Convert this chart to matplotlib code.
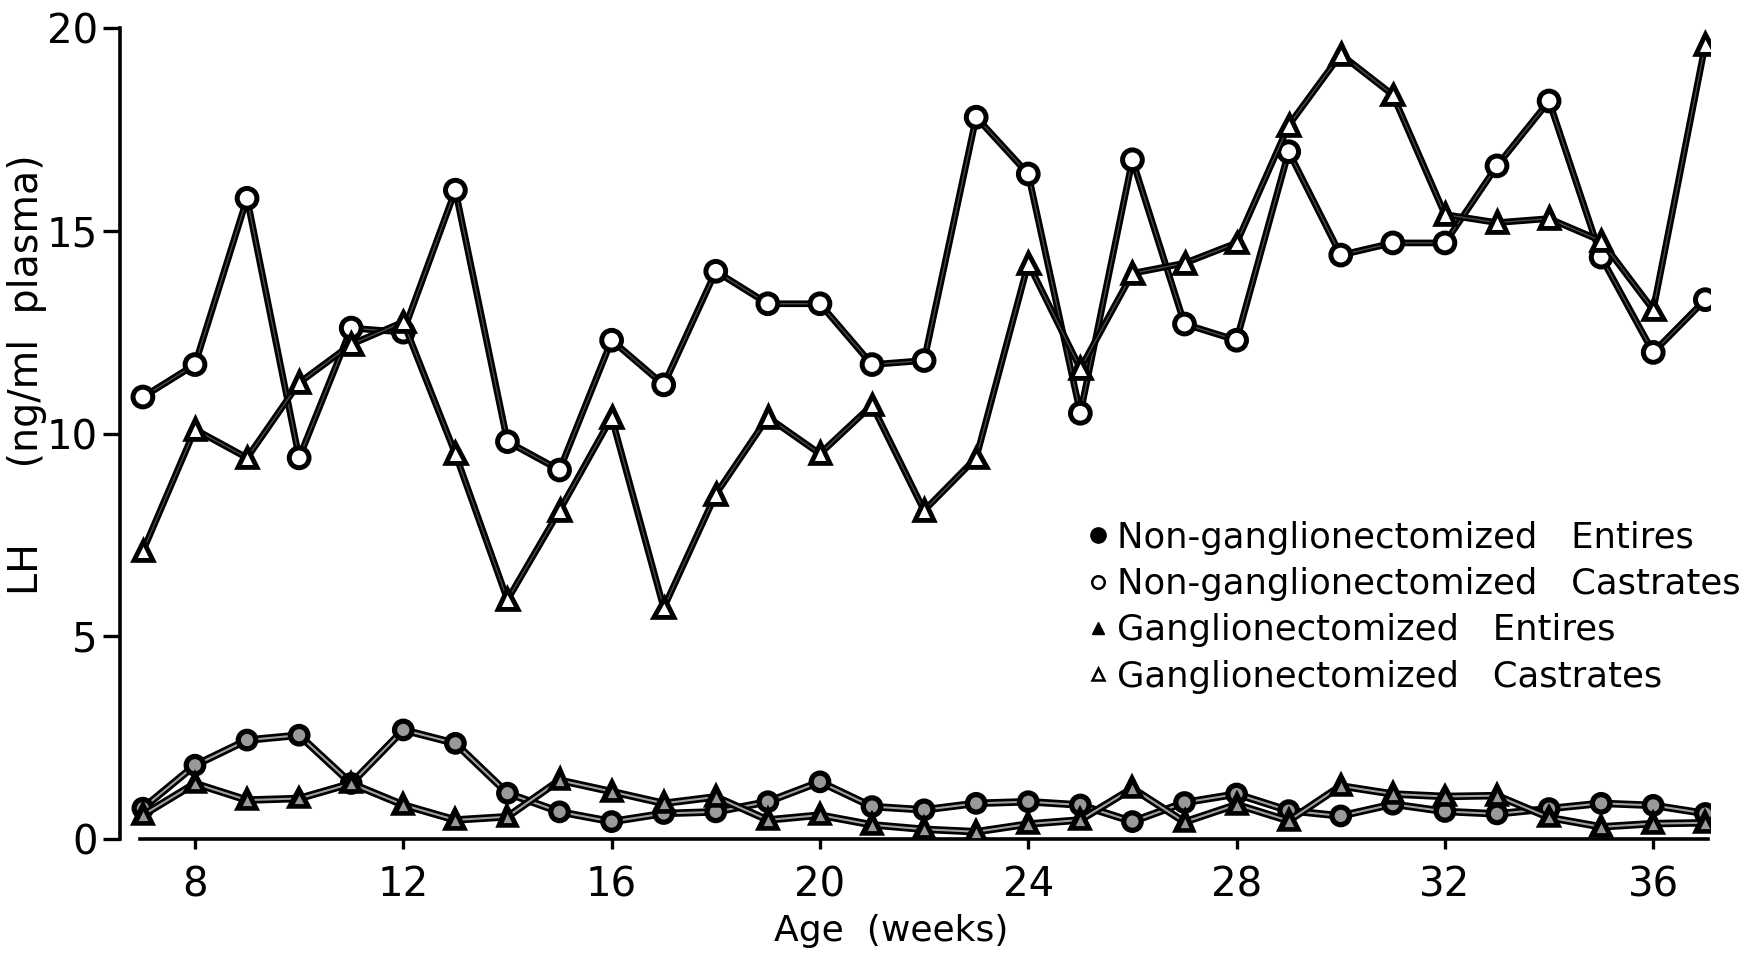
import matplotlib
matplotlib.use("Agg")
import matplotlib.pyplot as plt
import matplotlib.patheffects as pe
from matplotlib.lines import Line2D

# age in weeks
weeks = list(range(7, 38))

# LH (ng/ml plasma)
nong_castrates = [10.9, 11.7, 15.8, 9.4, 12.6, 12.5, 16.0, 9.8, 9.1, 12.3,
                  11.2, 14.0, 13.2, 13.2, 11.7, 11.8, 17.8, 16.4, 10.5, 16.75,
                  12.7, 12.3, 16.95, 14.4, 14.7, 14.7, 16.6, 18.2, 14.35, 12.0, 13.3]
gang_castrates = [7.1, 10.1, 9.4, 11.25, 12.2, 12.75, 9.5, 5.9, 8.1, 10.4,
                  5.7, 8.5, 10.4, 9.5, 10.7, 8.1, 9.4, 14.2, 11.6, 13.95,
                  14.2, 14.7, 17.6, 19.35, 18.35, 15.4, 15.2, 15.3, 14.75, 13.05, 19.6]
nong_entires = [0.76, 1.82, 2.44, 2.56, 1.37, 2.69, 2.36, 1.13, 0.67, 0.43,
                0.63, 0.67, 0.92, 1.41, 0.80, 0.72, 0.88, 0.92, 0.84, 0.43,
                0.90, 1.11, 0.70, 0.57, 0.86, 0.68, 0.62, 0.75, 0.88, 0.83, 0.63]
gang_entires = [0.59, 1.37, 0.96, 1.00, 1.37, 0.84, 0.47, 0.55, 1.45, 1.17,
                0.88, 1.04, 0.47, 0.59, 0.35, 0.24, 0.18, 0.37, 0.47, 1.25,
                0.42, 0.85, 0.45, 1.31, 1.11, 1.05, 1.07, 0.53, 0.30, 0.38, 0.40]

labels = ["Non-ganglionectomized   Entires",
          "Non-ganglionectomized   Castrates",
          "Ganglionectomized   Entires",
          "Ganglionectomized   Castrates"]

x_ticks = [8, 12, 16, 20, 24, 28, 32, 36]
y_ticks = [0, 5, 10, 15, 20]

plt.rcParams["font.family"] = ["DejaVu Sans"]

fig = plt.figure(figsize=(17.49, 9.59), dpi=100)
ax = fig.add_axes([0.0686, 0.1251, 0.9094, 0.8457])

upper_fx = [pe.Stroke(linewidth=4.8, foreground="black"), pe.Normal()]
lower_fx = [pe.Stroke(linewidth=5.4, foreground="black"), pe.Normal()]

ax.plot(weeks, nong_castrates, color="#4a4a4a", lw=1.0, marker="o", ms=13,
        mfc="white", mec="black", mew=2.4, path_effects=upper_fx, zorder=3)
ax.plot(weeks, gang_castrates, color="#4a4a4a", lw=1.0, marker="^", ms=12,
        mfc="white", mec="black", mew=2.2, path_effects=upper_fx, zorder=3)
ax.plot(weeks, nong_entires, color="#a0a0a0", lw=1.5, marker="o", ms=11,
        mfc="#999999", mec="black", mew=2.2, path_effects=lower_fx, zorder=3)
ax.plot(weeks, gang_entires, color="#a0a0a0", lw=1.5, marker="^", ms=10,
        mfc="#999999", mec="black", mew=2.0, path_effects=lower_fx, zorder=3)

ax.set_xlim(6.56, 37.1)
ax.set_ylim(0, 20)
for s in ["top", "right"]:
    ax.spines[s].set_visible(False)
ax.spines["left"].set_linewidth(2.6)
ax.spines["bottom"].set_linewidth(2.6)
ax.spines["bottom"].set_bounds(6.95, 37.05)
ax.spines["left"].set_bounds(0, 20)

ax.set_xticks(x_ticks)
ax.set_yticks(y_ticks)
ax.tick_params(axis="y", direction="out", length=12, width=2.4, pad=4, labelsize=29)
ax.tick_params(axis="x", direction="out", length=7, width=2.4, pad=12, labelsize=29)

ax.set_xlabel("Age  (weeks)", fontsize=26)
ax.xaxis.set_label_coords(0.485, -0.092)
ax.set_ylabel("LH      (ng/ml  plasma)", fontsize=28.5)
ax.yaxis.set_label_coords(-0.046, 0.572)

handles = [
    Line2D([], [], ls="none", marker="o", ms=11, mfc="black", mec="black"),
    Line2D([], [], ls="none", marker="o", ms=9, mfc="white", mec="black", mew=1.8),
    Line2D([], [], ls="none", marker="^", ms=9, mfc="black", mec="black"),
    Line2D([], [], ls="none", marker="^", ms=9, mfc="white", mec="black", mew=1.8),
]
ax.legend(handles, labels, loc="upper left", bbox_to_anchor=(0.599, 0.41),
          frameon=False, fontsize=25.5, handlelength=0.6, handletextpad=0.25,
          labelspacing=0.35, borderaxespad=0)

fig.savefig("out.png", dpi=100)
